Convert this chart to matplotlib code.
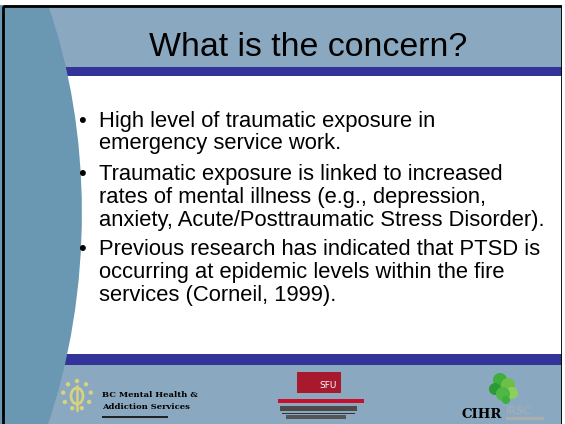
import math
import matplotlib
matplotlib.use("Agg")
import matplotlib.pyplot as plt
from matplotlib.patches import Rectangle, PathPatch, Circle, Ellipse
from matplotlib.path import Path

# slide content
title = "What is the concern?"
bullets = [
    ["High level of traumatic exposure in",
     "emergency service work."],
    ["Traumatic exposure is linked to increased",
     "rates of mental illness (e.g., depression,",
     "anxiety, Acute/Posttraumatic Stress Disorder)."],
    ["Previous research has indicated that PTSD is",
     "occurring at epidemic levels within the fire",
     "services (Corneil, 1999)."],
]
bc_lines = ["BC Mental Health &", "Addiction Services"]
sfu_label = "SFU"
cihr_label = "CIHR"
irsc_label = "IRSC"

light = "#8AA9C0"
curve_col = "#6A97B2"
navy = "#333399"

W, H = 565, 424
fig = plt.figure(figsize=(W / 100, H / 100), dpi=100)
ax = fig.add_axes([0, 0, 1, 1])
ax.set_xlim(0, W)
ax.set_ylim(H, 0)
ax.axis("off")

# background bands
ax.add_patch(Rectangle((0, 5), W, 62, color=light, lw=0))
ax.add_patch(Rectangle((0, 67), W, 9, color=navy, lw=0))
ax.add_patch(Rectangle((0, 76), W, 278, color="white", lw=0))
ax.add_patch(Rectangle((0, 354), W, 11, color=navy, lw=0))
ax.add_patch(Rectangle((0, 365), W, 70, color=light, lw=0))

# left curved panel
verts = [(0, 5), (48, 5), (92, 130), (95, 290), (46, 430), (0, 430), (0, 5)]
codes = [Path.MOVETO, Path.LINETO, Path.CURVE4, Path.CURVE4, Path.CURVE4,
         Path.LINETO, Path.CLOSEPOLY]
ax.add_patch(PathPatch(Path(verts, codes), facecolor=curve_col, lw=0))

# frame
ax.add_patch(Rectangle((2.5, 6), 559, 430, fill=False, ec="black", lw=2))
ax.add_patch(Rectangle((562, 0), 5, H, color="white", lw=0, zorder=3))

# title
ax.text(308, 56, title, fontsize=24.4, family="Liberation Sans",
        ha="center", va="baseline")

# bullets
fs = 15.8
line_h = 22.8
starts = [126.7, 180, 255]
for para, y0 in zip(bullets, starts):
    ax.text(82, y0, "\u2022", fontsize=fs, family="Liberation Sans",
            ha="center", va="baseline")
    for i, line in enumerate(para):
        ax.text(99, y0 + i * line_h, line, fontsize=fs,
                family="Liberation Sans", va="baseline")

# BC Mental Health logo
sun = "#D6D27E"
for k in range(9):
    a = math.radians(90 + k * 40)
    ax.add_patch(Circle((77 + 14 * math.cos(a), 395 - 14 * math.sin(a)), 2.2,
                        color=sun, lw=0))
ax.add_patch(Ellipse((77, 396), 12, 16, fill=False, ec=sun, lw=2))
ax.plot([77, 77], [386, 410], color=sun, lw=1.8)
ax.text(102, 397, bc_lines[0], fontsize=6.0, family="DejaVu Serif",
        weight="bold", va="baseline")
ax.text(102, 409, bc_lines[1], fontsize=6.0, family="DejaVu Serif",
        weight="bold", va="baseline")
ax.add_patch(Rectangle((102, 416), 66, 2, color="#222222", lw=0))

# SFU logo
ax.add_patch(Rectangle((297, 372), 44, 21, color="#A8192E", lw=0))
ax.text(328, 386, sfu_label, fontsize=6.5, color="white",
        family="DejaVu Sans", ha="center", va="center")
ax.add_patch(Rectangle((278, 399), 86, 4, color="#C8102E", lw=0))
ax.add_patch(Rectangle((280, 406), 77, 5, color="#4A4A4A", lw=0))
ax.add_patch(Rectangle((282, 412.5), 73, 1, color="#333333", lw=0))
ax.add_patch(Rectangle((286, 415), 60, 3.5, color="#555555", lw=0))

# CIHR logo
greens = ["#3FAE3A", "#6CC04A", "#2E9A36", "#8CD05A", "#4DB845"]
leaves = [(500, 380, 7), (508, 385, 7), (495, 389, 6), (512, 393, 6),
          (503, 394, 7), (506, 400, 4)]
for j, (cx, cy, r) in enumerate(leaves):
    ax.add_patch(Circle((cx, cy), r, color=greens[j % len(greens)], lw=0))
ax.text(461, 418, cihr_label, fontsize=9.5, family="DejaVu Serif",
        weight="bold", color="black", va="baseline")
ax.text(506, 414, irsc_label, fontsize=8, family="DejaVu Sans",
        color="#A9AEB0", va="baseline")
ax.add_patch(Rectangle((506, 417), 38, 2.5, color="#A9AEB0", lw=0))

fig.savefig("out.png", dpi=100)
